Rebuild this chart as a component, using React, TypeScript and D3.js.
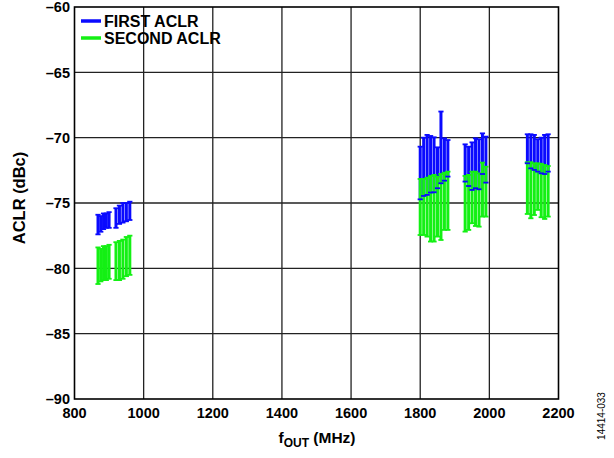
import React from "react";
import * as d3 from "d3";

const xTicks = [800, 1000, 1200, 1400, 1600, 1800, 2000, 2200];
const yTicks = [-60, -65, -70, -75, -80, -85, -90];

const freqs = [
  868, 876, 884, 892, 900,
  920, 930, 940, 950, 960,
  1800, 1810, 1820, 1830, 1840, 1850, 1860, 1870, 1880,
  1930, 1940, 1950, 1960, 1970, 1980, 1990,
  2110, 2120, 2130, 2140, 2150, 2160, 2170,
];
const firstMax = [
  -75.9, -76.0, -75.8, -75.8, -75.7,
  -75.4, -75.2, -75.0, -75.0, -74.9,
  -70.69, -70.0, -69.79, -69.87, -69.97, -70.74, -68.0, -70.05, -70.18,
  -70.51, -70.69, -70.36, -70.05, -70.12, -69.67, -69.92,
  -69.74, -69.74, -69.79, -70.12, -70.0, -69.79, -69.74,
];
const firstMin = [
  -77.4, -77.2, -77.0, -76.9, -76.9,
  -76.9, -76.6, -76.5, -76.4, -76.3,
  -74.72, -74.46, -74.38, -74.2, -74.18, -73.87, -73.49, -73.29, -72.98,
  -73.36, -73.7, -74.0, -73.87, -73.95, -72.78, -73.44,
  -71.96, -72.35, -72.47, -72.6, -72.73, -72.78, -72.6,
];
const secondMax = [
  -78.4, -78.5, -78.3, -78.3, -78.2,
  -78.0, -77.9, -77.8, -77.6, -77.5,
  -73.16, -73.16, -73.06, -72.93, -72.85, -72.98, -72.78, -72.68, -72.6,
  -72.93, -72.85, -72.6, -72.6, -72.73, -71.91, -72.22,
  -71.88, -71.88, -71.96, -71.96, -72.0, -72.09, -72.17,
];
const secondMin = [
  -81.2, -81.0, -80.9, -80.9, -80.8,
  -80.9, -80.9, -80.8, -80.6, -80.5,
  -77.45, -77.45, -77.57, -77.95, -77.95, -77.57, -77.83, -77.06, -77.06,
  -77.19, -77.06, -76.55, -76.76, -76.81, -76.04, -76.04,
  -75.84, -76.17, -75.92, -75.53, -76.09, -76.22, -76.04,
];

const seriesNames = ["FIRST ACLR", "SECOND ACLR"];
const seriesColors = ["#0a0aff", "#14f014"];

const W = 614;
const H = 458;
const M = { left: 74.5, right: 558.5, top: 7, bottom: 399 };
const FONT = "'Liberation Sans', Arial, sans-serif";

export default function App() {
  const x = d3.scaleLinear().domain([800, 2200]).range([M.left, M.right]);
  const y = d3.scaleLinear().domain([-90, -60]).range([M.bottom, M.top]);
  const capW = 2.6;
  const bars = [
    { lo: firstMin, hi: firstMax, color: seriesColors[0] },
    { lo: secondMin, hi: secondMax, color: seriesColors[1] },
  ];

  const lines = (b: typeof bars[0], key: string) =>
    freqs.map((f, i) => (
      <line key={key + i} x1={x(f)} x2={x(f)} y1={y(b.hi[i])} y2={y(b.lo[i])}
        stroke={b.color} strokeWidth={3} />
    ));
  const caps = (b: typeof bars[0], key: string) =>
    freqs.map((f, i) => (
      <g key={key + i}>
        <line x1={x(f) - capW} x2={x(f) + capW} y1={y(b.hi[i])} y2={y(b.hi[i])}
          stroke={b.color} strokeWidth={1.8} />
        <line x1={x(f) - capW} x2={x(f) + capW} y1={y(b.lo[i])} y2={y(b.lo[i])}
          stroke={b.color} strokeWidth={1.8} />
      </g>
    ));

  return (
    <svg width={W} height={H} style={{ position: "absolute", left: 0, top: 0 }}
      fontFamily={FONT}>
      <rect x={0} y={0} width={W} height={H} fill="white" />
      {xTicks.slice(1, -1).map((t) => (
        <line key={"gx" + t} x1={x(t)} x2={x(t)} y1={M.top} y2={M.bottom}
          stroke="#222" strokeWidth={1.3} />
      ))}
      {yTicks.slice(1, -1).map((t) => (
        <line key={"gy" + t} x1={M.left} x2={M.right} y1={y(t)} y2={y(t)}
          stroke="#222" strokeWidth={1.3} />
      ))}
      {lines(bars[0], "bl")}
      {lines(bars[1], "gl")}
      {caps(bars[1], "gc")}
      {caps(bars[0], "bc")}
      <rect x={M.left} y={M.top} width={M.right - M.left} height={M.bottom - M.top}
        fill="none" stroke="#000" strokeWidth={1.6} />
      {/* legend */}
      {seriesNames.map((n, i) => (
        <g key={n}>
          <line x1={81} x2={101} y1={21 + i * 17} y2={21 + i * 17}
            stroke={seriesColors[i]} strokeWidth={3.5} />
          <text x={104} y={21 + i * 17} dy="0.36em" fontSize={16} fontWeight="bold">{n}</text>
        </g>
      ))}
      {yTicks.map((t) => (
        <text key={"ty" + t} x={70} y={y(t)} dy="0.36em" textAnchor="end"
          fontSize={14.5} fontWeight="bold">{"–" + Math.abs(t)}</text>
      ))}
      {xTicks.map((t) => (
        <text key={"tx" + t} x={x(t)} y={413} dy="0.36em" textAnchor="middle"
          fontSize={14.5} fontWeight="bold">{t}</text>
      ))}
      <text transform={`translate(19,198) rotate(-90)`}
        textAnchor="middle" dy="0.36em" fontSize={16.5} fontWeight="bold">ACLR (dBc)</text>
      <text x={317} y={443} textAnchor="middle" fontSize={15.5} fontWeight="bold">
        f<tspan fontSize={12} dy={4}>OUT</tspan><tspan dy={-4}> (MHz)</tspan>
      </text>
      <text transform={`translate(601,416) rotate(-90)`} textAnchor="middle"
        dy="0.36em" fontSize={10}>14414-033</text>
    </svg>
  );
}
